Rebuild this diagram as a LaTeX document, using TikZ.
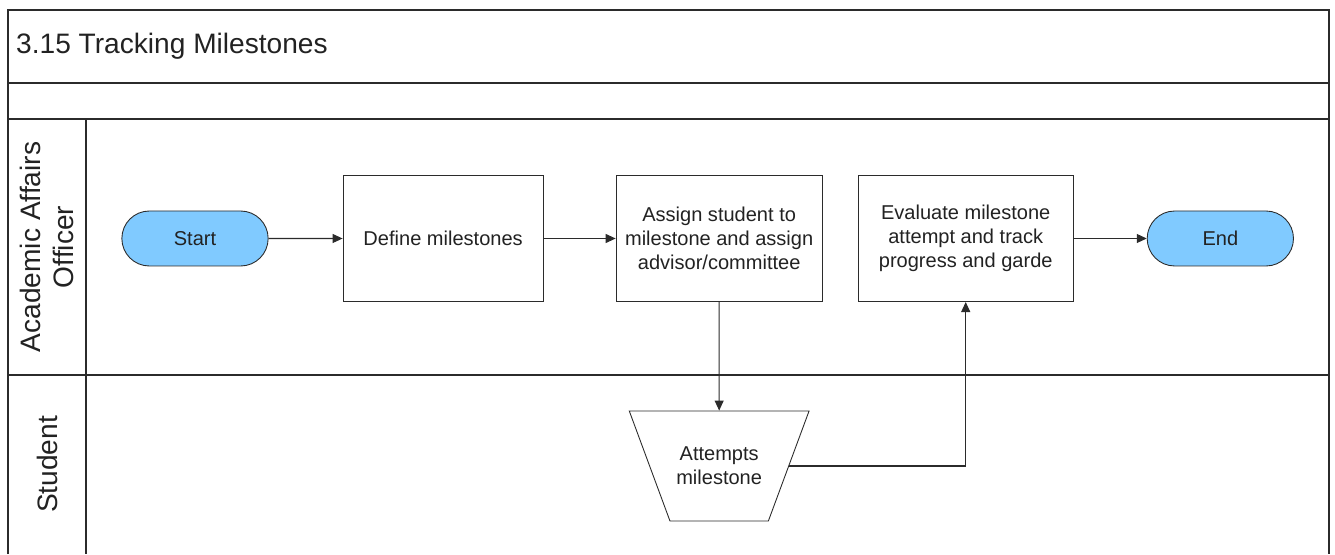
\documentclass[tikz,border=0pt]{standalone}
\usepackage{fontspec}
\setmainfont{Liberation Sans}
\usepackage{xcolor}
\usetikzlibrary{shapes.geometric, shapes.misc, arrows.meta, positioning}
\definecolor{LaneLine}{HTML}{2B2B2B}
\definecolor{TermBlue}{HTML}{80CAFF}
\definecolor{TextGray}{HTML}{222222}
\tikzset{
    % Lane and frame lines
    lane/.style={
        draw=LaneLine,
        line width=0.8pt
    },
    % Start/End style
    terminal/.style={
        rounded rectangle,
        draw=LaneLine,
        fill=TermBlue,
        line width=0.5pt,
        minimum width=3.16cm,
        minimum height=1.1cm,
        align=center,
        text=TextGray,
        font=\fontsize{11.4}{13.7}\selectfont
    },
    % Process box style
    task/.style={
        rectangle,
        draw=LaneLine,
        fill=white,
        line width=0.6pt,
        minimum height=2.52cm,
        align=center,
        text=TextGray,
        font=\fontsize{11.4}{13.7}\selectfont
    },
    % Manual operation style
    manual/.style={
        trapezium,
        shape border rotate=180,
        trapezium angle=51,
        trapezium stretches=true,
        draw=LaneLine,
        fill=white,
        line width=0.5pt,
        minimum width=3.6cm,
        minimum height=2.2cm,
        align=center,
        text=TextGray,
        font=\fontsize{11.4}{13.7}\selectfont
    },
    % Lane header text
    lanelabel/.style={
        rotate=90,
        align=center,
        text=TextGray,
        font=\fontsize{16}{18.5}\selectfont
    },
    % Arrow style
    arrow/.style={
        -{Triangle[length=2mm, width=1.8mm]},
        line width=0.6pt,
        color=LaneLine
    }
}
\begin{document}
\begin{tikzpicture}
    \useasboundingbox (0,0) rectangle (26.7,11.08);

    % Pool frame
    \draw [lane] (0.16,0) -- (0.16,10.88) -- (26.58,10.88) -- (26.58,0);
    \draw [lane] (0.16,9.42) -- (26.58,9.42);
    \draw [lane] (0.16,8.70) -- (26.58,8.70);
    \draw [lane] (0.16,3.58) -- (26.58,3.58);
    \draw [lane] (1.72,8.70) -- (1.72,0);

    \node (title) [anchor=west, text=TextGray, font=\fontsize{16}{19}\selectfont] at (0.2,10.15) {3.15 Tracking Milestones};

    % Lanes
    \node (officer) [lanelabel] at (0.94,6.14) {Academic Affairs\\Officer};
    \node (student) [lanelabel] at (0.94,1.79) {Student};

    % Officer lane
    \node (start) [terminal] at (3.9,6.31) {Start};
    \node (define) [task, minimum width=4.0cm, right=1.48cm of start] {Define milestones};
    \node (assign) [task, minimum width=4.12cm, right=1.44cm of define] {Assign student to\\milestone and assign\\advisor/committee};
    \node (evaluate) [task, minimum width=4.3cm, right=0.7cm of assign] {Evaluate milestone\\attempt and track\\progress and garde};
    \node (end) [terminal, right=1.46cm of evaluate] {End};

    % Student lane
    \node (attempt) [manual] at (assign.center |- 0,1.76) {Attempts\\milestone};

    \draw [arrow] (start) -- (define);
    \draw [arrow] (define) -- (assign);
    \draw [arrow] (assign) -- (attempt);
    \draw [arrow] (attempt.east) -| (evaluate.south);
    \draw [arrow] (evaluate) -- (end);
\end{tikzpicture}
\end{document}
